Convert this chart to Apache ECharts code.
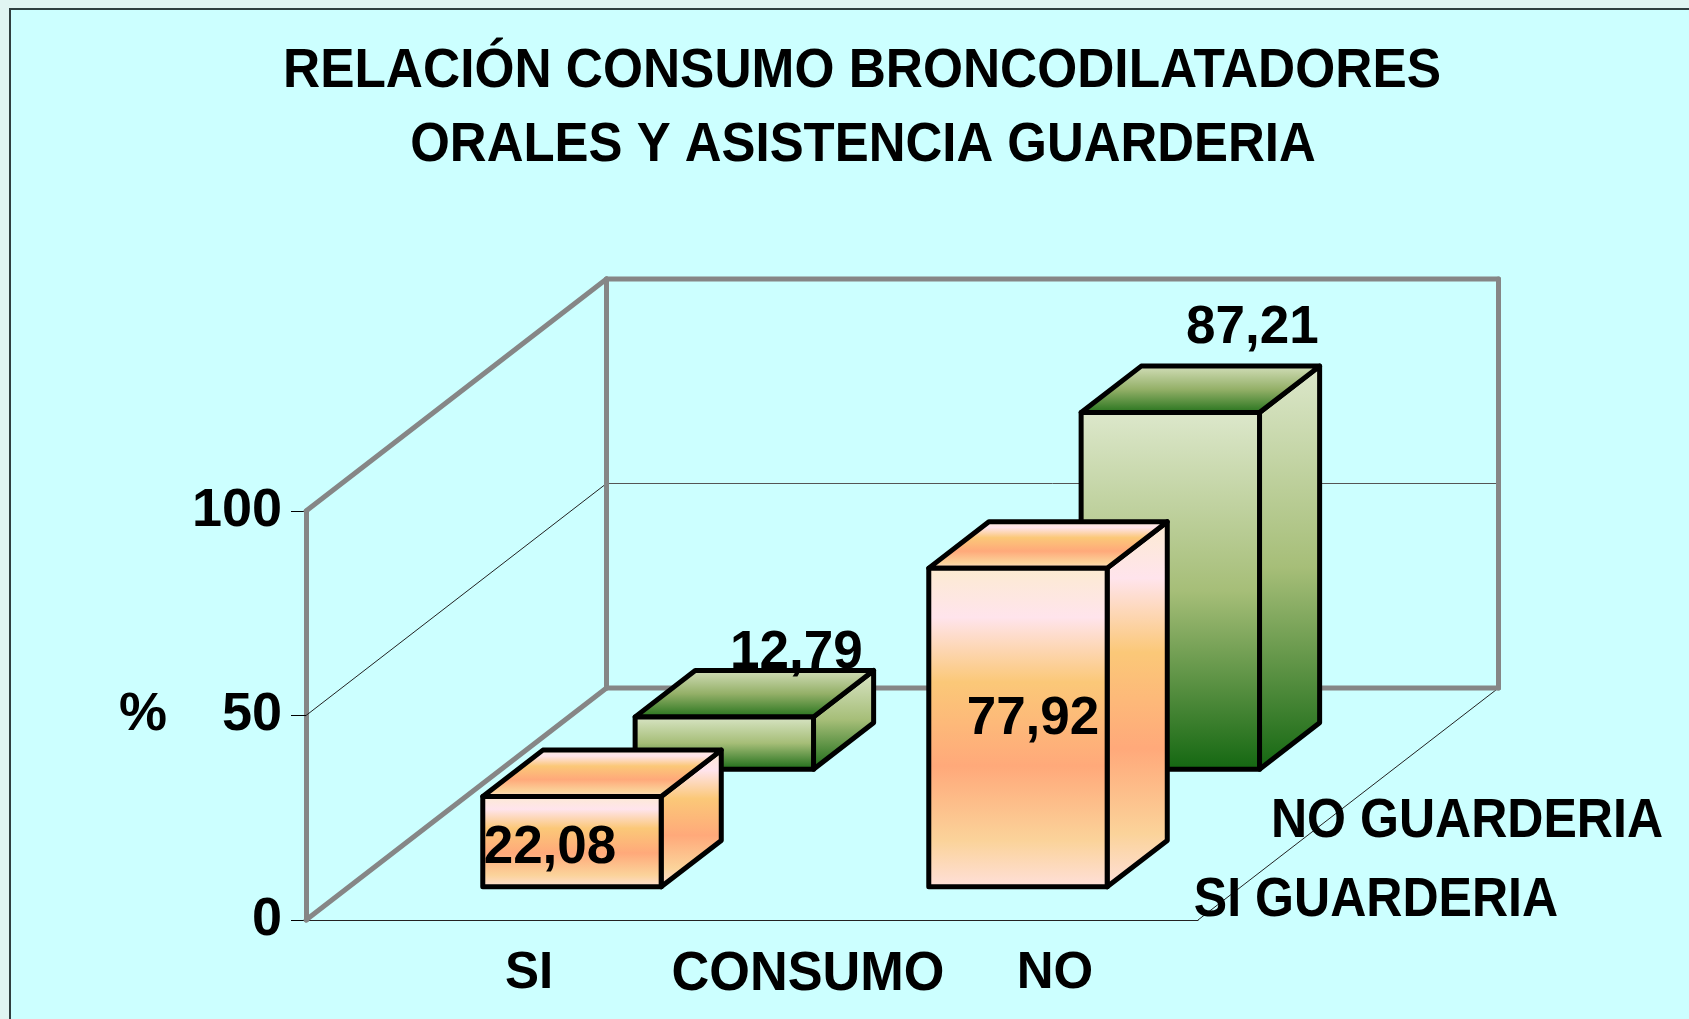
<!DOCTYPE html>
<html>
<head>
<meta charset="utf-8">
<script src="https://cdn.jsdelivr.net/npm/echarts@6/dist/echarts.min.js"></script>
<style>
    html, body { margin: 0; padding: 0; background: #E0F5F2; }
    #chart { width: 1689px; height: 1019px; }
</style>
</head>
<body>
<div id="chart"></div>
<script>
// datos
const categories = ['SI', 'NO'];
const rows = ['NO GUARDERIA', 'SI GUARDERIA'];
const noGuarderia = [12.79, 87.21];
const siGuarderia = [22.08, 77.92];
const yTicks = [0, 50, 100];
const titleLines = ['RELACIÓN CONSUMO BRONCODILATADORES', 'ORALES Y ASISTENCIA GUARDERIA'];

// geometria de la falsa perspectiva 3D
const depthVec = [300.5, -232];
const barWidthRatio = 0.4;
const barDepth = 0.2;
const rowCenter = { back: 0.75, front: 0.243 };

const FONT = '"Liberation Sans", Arial, sans-serif';
const GRAY = '#868686';

const orangeStops = [
    { offset: 0, color: '#FCEBD0' },
    { offset: 0.16, color: '#FFE4EC' },
    { offset: 0.36, color: '#FBC878' },
    { offset: 0.62, color: '#FFA97A' },
    { offset: 0.85, color: '#FBD39A' },
    { offset: 1, color: '#FFE0DC' }
];
const greenStops = [
    { offset: 0, color: '#DDE8CC' },
    { offset: 0.5, color: '#A6BE78' },
    { offset: 1, color: '#126610' }
];
const topGreen = [
    { offset: 0, color: '#D8E2C0' },
    { offset: 0.5, color: '#94B068' },
    { offset: 1, color: '#1C6E16' }
];

function gradient(stops) {
    return new echarts.graphic.LinearGradient(0, 0, 0, 1, stops);
}

// desplaza un punto de la cara frontal hacia el fondo
function shift(p, d) {
    return [p[0] + depthVec[0] * d, p[1] + depthVec[1] * d];
}

function line(a, b, color, width) {
    return {
        type: 'line',
        shape: { x1: a[0], y1: a[1], x2: b[0], y2: b[1] },
        style: { stroke: color, lineWidth: width, lineCap: 'round' }
    };
}

// paredes del fondo y lineas de la rejilla
function renderWalls(params, api) {
    const x0 = params.coordSys.x;
    const x1 = x0 + params.coordSys.width;
    const y = (v) => api.coord([0, v])[1];
    const yTop = y(yTicks[2]);
    const yMid = y(yTicks[1]);
    const yBot = y(yTicks[0]);
    const tl = shift([x0, yTop], 1);
    const tr = shift([x1, yTop], 1);
    const bl = shift([x0, yBot], 1);
    const br = shift([x1, yBot], 1);
    return {
        type: 'group',
        children: [
            line([x0, yMid], shift([x0, yMid], 1), '#222', 1),
            line(shift([x0, yMid], 1), shift([x1, yMid], 1), '#555', 1),
            line([x1, yBot], br, '#222', 1),
            line([x0, yTop], tl, GRAY, 5),
            line([x0, yBot], bl, GRAY, 5),
            line(tl, bl, GRAY, 5),
            line(tl, tr, GRAY, 5),
            line(tr, br, GRAY, 5),
            line(bl, br, GRAY, 5)
        ]
    };
}

// una barra: cara lateral, tapa y frente
function makeBarRender(center, stops, capStops, labelShift) {
    return function (params, api) {
        const idx = api.value(0);
        const val = api.value(1);
        const w = api.size([1, 0])[0] * barWidthRatio;
        const cx = api.coord([idx, 0])[0];
        const d0 = center - barDepth / 2;
        const fl = shift([cx - w / 2, api.coord([idx, 0])[1]], d0);
        const fr = shift([cx + w / 2, api.coord([idx, 0])[1]], d0);
        const tl = shift([cx - w / 2, api.coord([idx, val])[1]], d0);
        const tr = shift([cx + w / 2, api.coord([idx, val])[1]], d0);
        const back = (p) => shift(p, barDepth);
        const edge = { stroke: '#000', lineWidth: 5, lineJoin: 'round' };
        const off = labelShift[idx];
        return {
            type: 'group',
            children: [
                {
                    type: 'polygon',
                    shape: { points: [fr, tr, back(tr), back(fr)] },
                    style: Object.assign({ fill: gradient(stops) }, edge)
                },
                {
                    type: 'polygon',
                    shape: { points: [tl, tr, back(tr), back(tl)] },
                    style: Object.assign({ fill: gradient(capStops) }, edge)
                },
                {
                    type: 'polygon',
                    shape: { points: [tl, tr, fr, fl] },
                    style: Object.assign({ fill: gradient(stops) }, edge)
                },
                {
                    type: 'text',
                    x: (tl[0] + tr[0]) / 2 + off[0],
                    y: tl[1] + off[1],
                    style: {
                        text: val.toFixed(2).replace('.', ','),
                        fill: '#000',
                        font: 'bold 53px ' + FONT,
                        textAlign: 'center',
                        textVerticalAlign: 'middle'
                    }
                }
            ]
        };
    };
}

// texto en negrita algo comprimido, como en el original
function boldText(text, x, y, scaleX) {
    return {
        type: 'text',
        x: x,
        y: y,
        scaleX: scaleX,
        z: 100,
        style: {
            text: text,
            fill: '#000',
            font: 'bold 55px ' + FONT,
            textAlign: 'center',
            textVerticalAlign: 'middle'
        }
    };
}

const chart = echarts.init(document.getElementById('chart'));
chart.setOption({
    backgroundColor: '#E0F5F2',
    animation: false,
    grid: { left: 306, right: 491, top: 511, bottom: 99 },
    xAxis: {
        type: 'category',
        data: categories,
        axisLine: { onZero: false, lineStyle: { color: '#222', width: 1 } },
        axisTick: { show: false },
        axisLabel: {
            margin: 28,
            color: '#000',
            fontFamily: FONT,
            fontWeight: 'bold',
            fontSize: 51,
            // NO va bastante a la derecha del centro de su categoria
            formatter: (v) => (v === 'NO' ? '{no|NO}' : v),
            rich: { no: { padding: [0, 0, 0, 160], color: '#000', fontFamily: FONT, fontWeight: 'bold', fontSize: 51 } }
        }
    },
    yAxis: {
        type: 'value',
        min: 0,
        max: 100,
        interval: 50,
        name: '%',
        nameLocation: 'middle',
        nameRotate: 0,
        nameGap: 139,
        nameTextStyle: { color: '#000', fontFamily: FONT, fontWeight: 'bold', fontSize: 54 },
        axisLine: { show: true, lineStyle: { color: GRAY, width: 5 } },
        axisTick: { show: true, length: 15, lineStyle: { color: '#000', width: 1 } },
        axisLabel: { margin: 24, padding: [5, 0, 0, 0], color: '#000', fontFamily: FONT, fontWeight: 'bold', fontSize: 54 },
        splitLine: { show: false }
    },
    graphic: [
        {
            type: 'rect',
            z: -10,
            shape: { x: 10, y: 9, width: 1700, height: 1040 },
            style: { fill: '#CCFFFF', stroke: '#2F3F3F', lineWidth: 2 }
        },
        boldText(titleLines[0], 862, 72, 0.935),
        boldText(titleLines[1], 863, 146, 0.926),
        boldText('CONSUMO', 808, 975, 0.95),
        boldText(rows[0], 1467, 822, 0.91),
        boldText(rows[1], 1376, 901, 0.91)
    ],
    series: [
        {
            type: 'custom',
            name: 'paredes',
            silent: true,
            clip: false,
            renderItem: renderWalls,
            data: [[0, 0]]
        },
        {
            type: 'custom',
            name: rows[0],
            clip: false,
            renderItem: makeBarRender(rowCenter.back, greenStops, topGreen, [[72, -63], [82, -84]]),
            encode: { x: 0, y: 1 },
            data: noGuarderia.map((v, i) => [i, v])
        },
        {
            type: 'custom',
            name: rows[1],
            clip: false,
            renderItem: makeBarRender(rowCenter.front, orangeStops, orangeStops, [[-22, 52], [15, 151]]),
            encode: { x: 0, y: 1 },
            data: siGuarderia.map((v, i) => [i, v])
        }
    ]
});
</script>
</body>
</html>
